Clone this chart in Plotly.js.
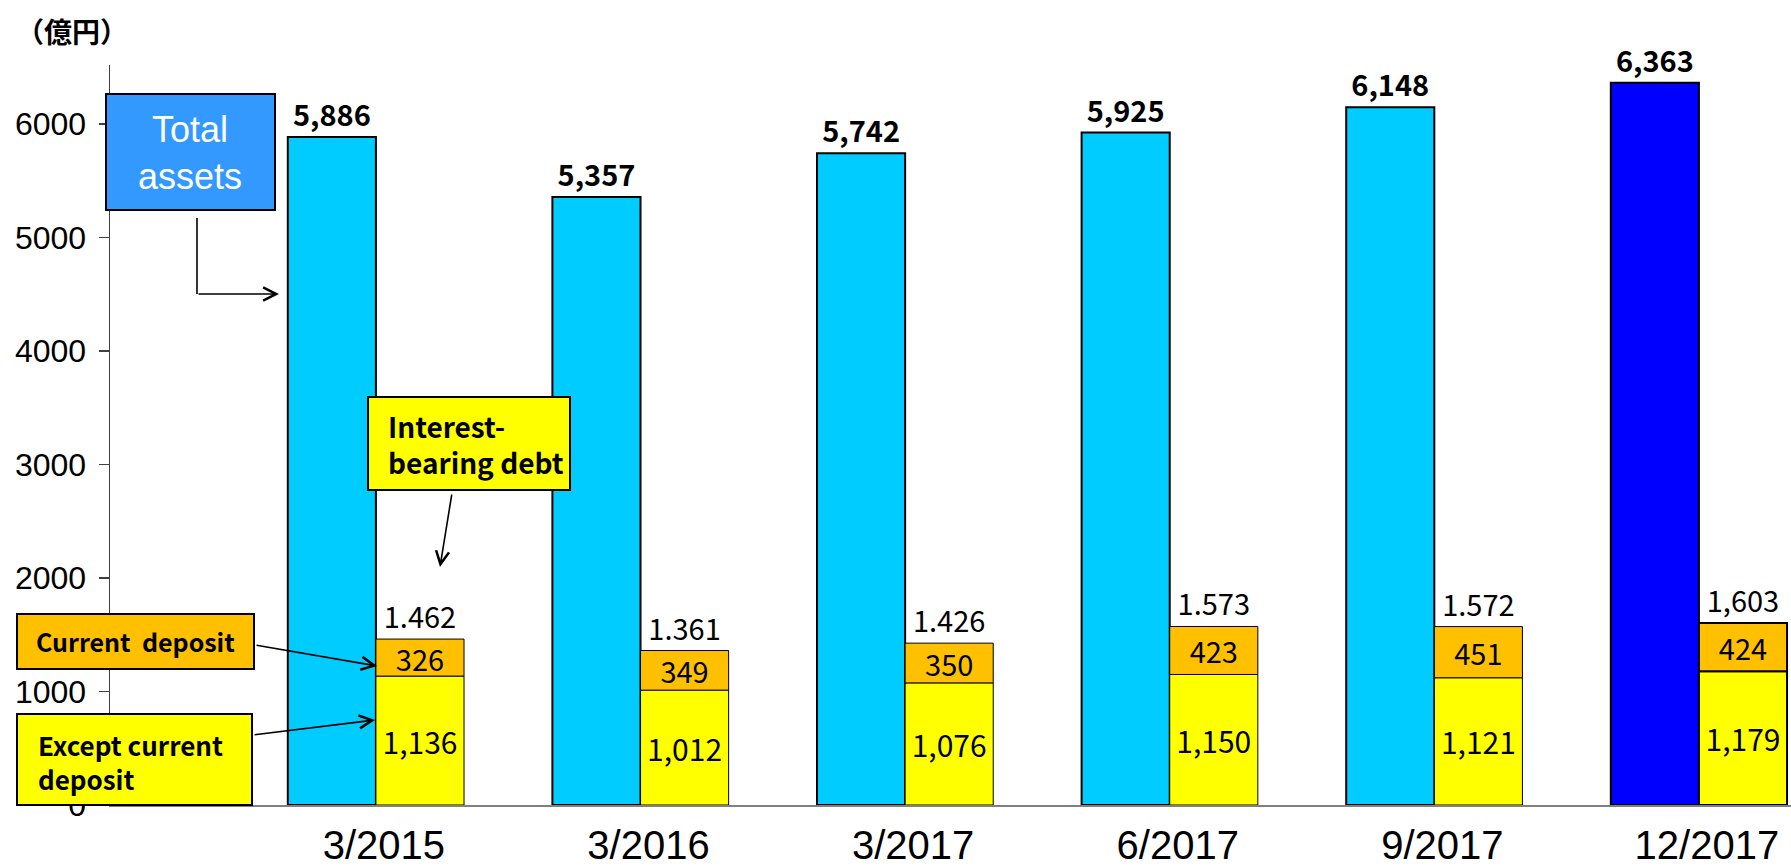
<!DOCTYPE html>
<html>
<head>
<meta charset="utf-8">
<script src="https://cdn.plot.ly/plotly-3.0.1.min.js"></script>
<style>
  html, body { margin: 0; padding: 0; background: #ffffff; }
  #chart { width: 1791px; height: 868px; }
</style>
</head>
<body>
<div id="chart"></div>
<script>
// ---- Data ----
const categories = ['3/2015', '3/2016', '3/2017', '6/2017', '9/2017', '12/2017'];
const totalAssets = [5886, 5357, 5742, 5925, 6148, 6363];
const exceptCurrentDeposit = [1136, 1012, 1076, 1150, 1121, 1179];
const currentDeposit = [326, 349, 350, 423, 451, 424];
const debtTotalLabels = ['1.462', '1.361', '1.426', '1.573', '1.572', '1,603'];
const yTickValues = [0, 1000, 2000, 3000, 4000, 5000, 6000];

// ---- Styles ----
const W = 1791, H = 868;
const M = { l: 110, r: 0, t: 65, b: 63 };
const plotW = W - M.l - M.r, plotH = H - M.t - M.b;
const CYAN = '#00CCFF', BLUE = '#0000FF', YELLOW = '#FFFF00', ORANGE = '#FFC000';
const BAR_W = 0.333;
const FONT = 'Liberation Sans, Arial, sans-serif';
const JP = 'Noto Sans CJK JP, Noto Sans, sans-serif';

const fmt = v => v.toLocaleString('en-US');
const debtTotal = exceptCurrentDeposit.map((v, i) => v + currentDeposit[i]);

// pixel -> paper helpers for callouts
const PX = x => (x - M.l) / plotW;
const PY = y => (H - M.b - y) / plotH;

const lastWide = (a, b) => categories.map((c, i) => i === categories.length - 1 ? a : b);

const traces = [
  {
    type: 'bar', name: 'Total assets',
    x: categories, y: totalAssets,
    width: BAR_W, offset: -BAR_W,
    marker: { color: lastWide(BLUE, CYAN), line: { color: '#000000', width: 2 } },
    text: totalAssets.map(fmt), textposition: 'outside', textangle: 0,
    constraintext: 'none', cliponaxis: false,
    textfont: { family: JP, size: 29, color: '#000000', weight: 'bold' },
    hoverinfo: 'skip'
  },
  {
    type: 'bar', name: 'Except current deposit',
    x: categories, y: exceptCurrentDeposit, base: 0,
    width: BAR_W, offset: 0,
    marker: { color: YELLOW, line: { color: '#000000', width: lastWide(2, 1) } },
    text: exceptCurrentDeposit.map(fmt), textposition: 'inside', insidetextanchor: 'middle', textangle: 0,
    constraintext: 'none',
    textfont: { family: JP, size: 30, color: '#000000' },
    hoverinfo: 'skip'
  },
  {
    type: 'bar', name: 'Current deposit',
    x: categories, y: currentDeposit, base: exceptCurrentDeposit,
    width: BAR_W, offset: 0,
    marker: { color: ORANGE, line: { color: '#000000', width: lastWide(2, 1) } },
    text: currentDeposit.map(fmt), textposition: 'inside', insidetextanchor: 'middle', textangle: 0,
    constraintext: 'none',
    textfont: { family: JP, size: 29, color: '#000000' },
    hoverinfo: 'skip'
  },
  {
    type: 'bar', name: 'Interest-bearing debt',
    x: categories, y: debtTotal, base: 0,
    width: BAR_W, offset: 0,
    marker: { color: 'rgba(0,0,0,0)', line: { width: 0 } },
    text: debtTotalLabels, textposition: 'outside', textangle: 0,
    constraintext: 'none', cliponaxis: false,
    textfont: { family: JP, size: 29, color: '#000000' },
    hoverinfo: 'skip'
  }
];

function box(x0, y0, x1, y1, fill) {
  return { type: 'rect', xref: 'paper', yref: 'paper', layer: 'above',
           x0: PX(x0), x1: PX(x1), y0: PY(y1), y1: PY(y0),
           fillcolor: fill, line: { color: '#000000', width: 2 } };
}
function arrow(tx, ty, hx, hy) {
  return { xref: 'paper', yref: 'paper', x: PX(hx), y: PY(hy),
           axref: 'pixel', ayref: 'pixel', ax: tx - hx, ay: ty - hy,
           text: '', showarrow: true, arrowhead: 5, arrowsize: 1.6,
           arrowwidth: 1.6, arrowcolor: '#000000', standoff: 0, startstandoff: 0 };
}
function label(text, x, y, anchor, font) {
  return { xref: 'paper', yref: 'paper', x: PX(x), y: PY(y), text: text,
           showarrow: false, xanchor: anchor, yanchor: 'middle', align: anchor === 'left' ? 'left' : 'center',
           font: font };
}

const shapes = [
  box(106, 94, 275, 210, '#3399FF'),
  box(368, 397, 570, 490, YELLOW),
  box(17, 614, 254, 669, ORANGE),
  box(17, 714, 252, 805, YELLOW),
  { type: 'line', xref: 'paper', yref: 'paper', layer: 'above',
    x0: PX(197), x1: PX(197), y0: PY(218), y1: PY(294),
    line: { color: '#000000', width: 1.6 } }
];

const calloutFont = size => ({ family: JP, size: size, color: '#000000', weight: 'bold' });

const annotations = [
  label('（億円）', 14, 31, 'left', { family: JP, size: 28, color: '#000000', weight: 'bold' }),
  label('Total<br>assets', 190, 153, 'center', { family: FONT, size: 36, color: '#FFFFFF' }),
  label('Interest-<br>bearing debt', 386, 444, 'left', calloutFont(28)),
  label('Current\u00a0\u00a0deposit', 135, 641, 'center', calloutFont(25)),
  label('Except current<br>deposit', 36, 761, 'left', calloutFont(26)),
  arrow(197, 294, 279, 294),
  arrow(452, 493, 440, 567),
  arrow(255, 645, 377, 666),
  arrow(253, 735, 375, 720)
];

const layout = {
  width: W, height: H,
  margin: M,
  paper_bgcolor: '#FFFFFF', plot_bgcolor: '#FFFFFF',
  barmode: 'overlay',
  showlegend: false,
  font: { family: FONT, color: '#000000' },
  xaxis: {
    type: 'category',
    range: [-1.005, 5.348],
    showline: true, linecolor: '#808080', linewidth: 1.5,
    showgrid: false, zeroline: false, ticks: '',
    tickfont: { family: FONT, size: 40, color: '#000000' },
    ticklabelstandoff: 4, ticklabelshift: 8,
    fixedrange: true
  },
  yaxis: {
    range: [0, 6520],
    tickvals: yTickValues,
    showline: true, linecolor: '#404040', linewidth: 1.5,
    ticks: 'outside', ticklen: 10, tickcolor: '#404040', tickwidth: 1.5,
    showgrid: false, zeroline: false,
    tickfont: { family: FONT, size: 32, color: '#000000' },
    ticklabelstandoff: 6,
    fixedrange: true
  },
  shapes: shapes,
  annotations: annotations
};

Plotly.newPlot('chart', traces, layout, { displayModeBar: false, staticPlot: true });
</script>
</body>
</html>
